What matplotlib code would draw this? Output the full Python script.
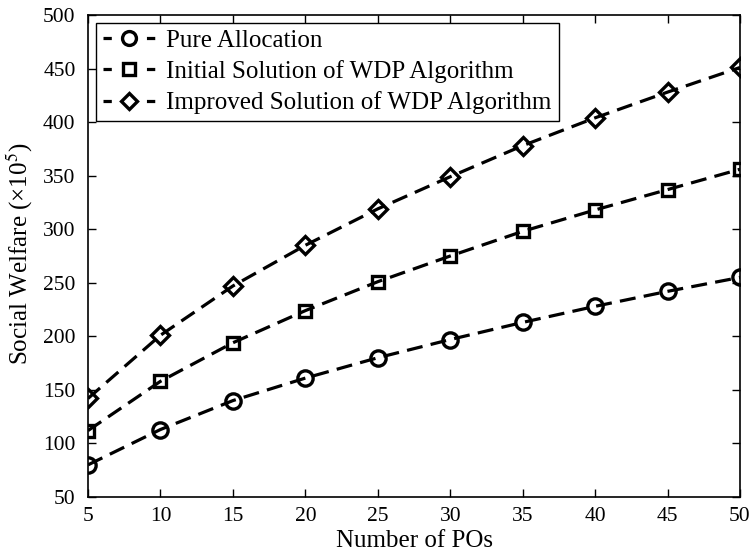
import matplotlib
matplotlib.use("Agg")
import matplotlib.pyplot as plt
from matplotlib.lines import Line2D

plt.rcParams['font.family'] = ['Liberation Serif', 'DejaVu Serif']
plt.rcParams['mathtext.fontset'] = 'stix'

x = [5, 10, 15, 20, 25, 30, 35, 40, 45, 50]
pure = [80, 113, 140, 161, 180, 197, 213, 228, 242, 255]
initial = [112, 158, 194, 224, 251, 275, 298, 318, 337, 356]
improved = [142, 201, 247, 285, 319, 349, 378, 404, 428, 451]
labels = ['Pure Allocation', 'Initial Solution of WDP Algorithm', 'Improved Solution of WDP Algorithm']
markers = ['o', 's', 'D']
msizes = [11, 9, 9]

fig = plt.figure(figsize=(7.53, 5.52), dpi=100)
ax = fig.add_axes([88/753, 1 - 497/552, (740-88)/753, (497-15)/552])

base = dict(color='black', linewidth=2.3, markerfacecolor='none', markeredgewidth=2.4)
handles = []
for ys, m, ms, lab in zip([pure, initial, improved], markers, msizes, labels):
    ax.plot(x, ys, marker=m, markersize=ms, linestyle=(0, (5, 2.6)), **base)
    handles.append(Line2D([], [], marker=m, markersize=ms - 1, linestyle=(0, (2.6, 11.0)),
                          label=lab, **base))

ax.set_xlim(5, 50)
ax.set_ylim(50, 500)
ax.set_xticks(range(5, 51, 5))
ax.set_yticks(range(50, 501, 50))
ax.tick_params(direction='in', top=True, right=True, labelsize=15.5, length=6, width=1)
ax.tick_params(axis='y', pad=9)
ax.tick_params(axis='x', pad=7)
for s in ax.spines.values():
    s.set_linewidth(1.2)
ax.set_xlabel('Number of POs', fontsize=18, labelpad=3)
ax.set_ylabel('Social Welfare (×10$^5$)', fontsize=18)
ax.yaxis.set_label_coords(-0.081, 0.505)

leg = ax.legend(handles=handles, loc='upper left', fontsize=18, frameon=True, fancybox=False,
                edgecolor='black', framealpha=1, borderpad=0.28, labelspacing=0.33,
                handlelength=2.1, handletextpad=0.45, borderaxespad=0.3)
leg.get_frame().set_linewidth(1.0)

fig.savefig('out.png', dpi=100)
